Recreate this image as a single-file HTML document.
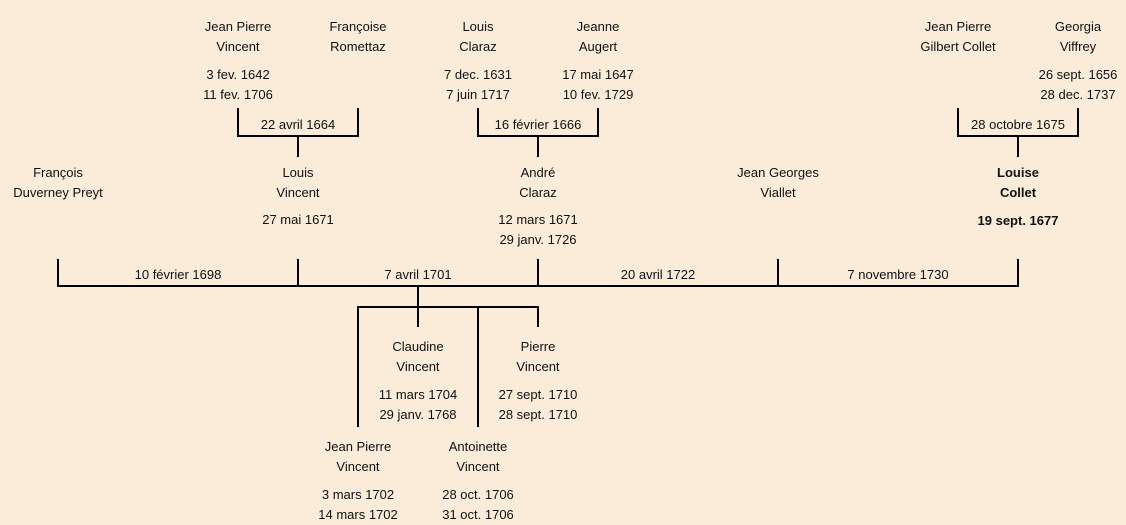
<!DOCTYPE html>
<html><head><meta charset="utf-8"><style>
body{margin:0;width:1126px;height:521px;background:#fbebd9;position:relative;overflow:hidden;font-family:"Comic Sans MS","Liberation Sans",sans-serif;font-size:13px;color:#111}
.t{position:absolute;width:200px;margin-left:-100px;text-align:center;line-height:20px;white-space:nowrap}
.b{font-weight:bold}
svg{position:absolute;left:0;top:0}
</style></head><body>
<svg width="1126" height="521"><g stroke="#000" stroke-width="2" fill="none">
<path d="M238 108V136H358V108M298 136V157"/>
<path d="M478 108V136H598V108M538 136V157"/>
<path d="M958 108V136H1078V108M1018 136V157"/>
<path d="M58 259V286H1018V259M298 259V286M538 259V286M778 259V286"/>
<path d="M418 286V307M358 427V307H538V327M418 307V327M478 307V427"/>
</g></svg>
<div class="t" style="left:238px;top:17px">Jean Pierre<br>Vincent</div>
<div class="t" style="left:238px;top:65px">3 fev. 1642<br>11 fev. 1706</div>
<div class="t" style="left:358px;top:17px">Françoise<br>Romettaz</div>
<div class="t" style="left:478px;top:17px">Louis<br>Claraz</div>
<div class="t" style="left:478px;top:65px">7 dec. 1631<br>7 juin 1717</div>
<div class="t" style="left:598px;top:17px">Jeanne<br>Augert</div>
<div class="t" style="left:598px;top:65px">17 mai 1647<br>10 fev. 1729</div>
<div class="t" style="left:958px;top:17px">Jean Pierre<br>Gilbert Collet</div>
<div class="t" style="left:1078px;top:17px">Georgia<br>Viffrey</div>
<div class="t" style="left:1078px;top:65px">26 sept. 1656<br>28 dec. 1737</div>
<div class="t" style="left:298px;top:115px">22 avril 1664</div>
<div class="t" style="left:538px;top:115px">16 février 1666</div>
<div class="t" style="left:1018px;top:115px">28 octobre 1675</div>
<div class="t" style="left:58px;top:163px">François<br>Duverney Preyt</div>
<div class="t" style="left:298px;top:163px">Louis<br>Vincent</div>
<div class="t" style="left:298px;top:210px">27 mai 1671</div>
<div class="t" style="left:538px;top:163px">André<br>Claraz</div>
<div class="t" style="left:538px;top:210px">12 mars 1671<br>29 janv. 1726</div>
<div class="t" style="left:778px;top:163px">Jean Georges<br>Viallet</div>
<div class="t b" style="left:1018px;top:163px">Louise<br>Collet</div>
<div class="t b" style="left:1018px;top:211px">19 sept. 1677</div>
<div class="t" style="left:178px;top:265px">10 février 1698</div>
<div class="t" style="left:418px;top:265px">7 avril 1701</div>
<div class="t" style="left:658px;top:265px">20 avril 1722</div>
<div class="t" style="left:898px;top:265px">7 novembre 1730</div>
<div class="t" style="left:418px;top:337px">Claudine<br>Vincent</div>
<div class="t" style="left:418px;top:385px">11 mars 1704<br>29 janv. 1768</div>
<div class="t" style="left:538px;top:337px">Pierre<br>Vincent</div>
<div class="t" style="left:538px;top:385px">27 sept. 1710<br>28 sept. 1710</div>
<div class="t" style="left:358px;top:437px">Jean Pierre<br>Vincent</div>
<div class="t" style="left:358px;top:485px">3 mars 1702<br>14 mars 1702</div>
<div class="t" style="left:478px;top:437px">Antoinette<br>Vincent</div>
<div class="t" style="left:478px;top:485px">28 oct. 1706<br>31 oct. 1706</div>
</body></html>
